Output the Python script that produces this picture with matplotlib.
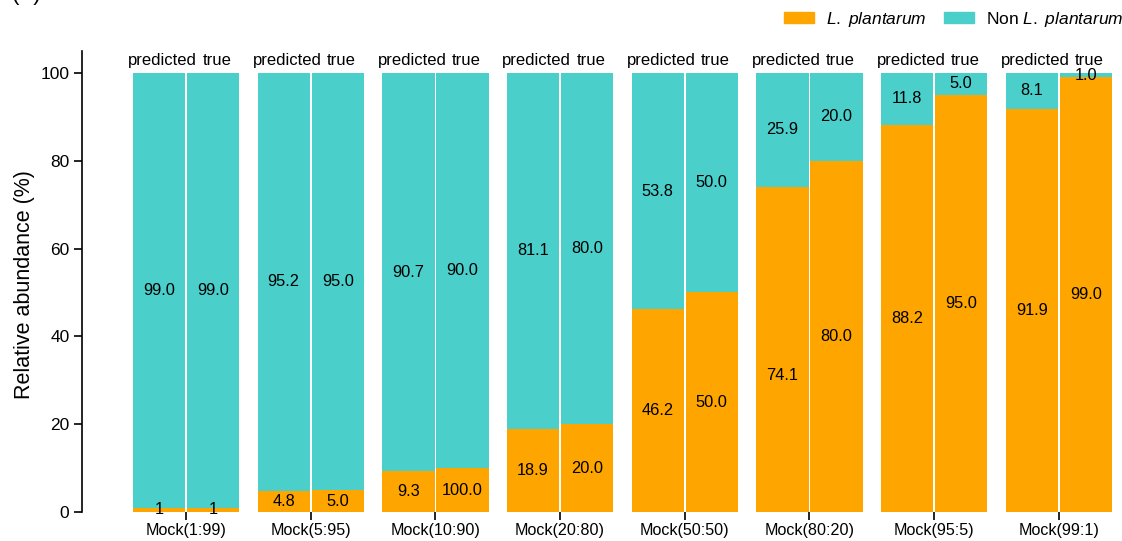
import numpy as np
import matplotlib.pyplot as plt
from matplotlib.patches import Patch

plt.rcParams['font.family'] = 'Liberation Sans'
plt.rcParams['mathtext.fontset'] = 'custom'
plt.rcParams['mathtext.rm'] = 'Liberation Sans'
plt.rcParams['mathtext.it'] = 'Liberation Sans:italic'

# Data
groups = ['Mock(1:99)', 'Mock(5:95)', 'Mock(10:90)', 'Mock(20:80)',
          'Mock(50:50)', 'Mock(80:20)', 'Mock(95:5)', 'Mock(99:1)']
pred_lp = [1.0, 4.8, 9.3, 18.9, 46.2, 74.1, 88.2, 91.9]
pred_non = [99.0, 95.2, 90.7, 81.1, 53.8, 25.9, 11.8, 8.1]
true_lp = [1.0, 5.0, 10.0, 20.0, 50.0, 80.0, 95.0, 99.0]
true_non = [99.0, 95.0, 90.0, 80.0, 50.0, 20.0, 5.0, 1.0]

# text labels as printed on the chart
pred_lp_lab = ['1', '4.8', '9.3', '18.9', '46.2', '74.1', '88.2', '91.9']
true_lp_lab = ['1', '5.0', '100.0', '20.0', '50.0', '80.0', '95.0', '99.0']
pred_non_lab = ['99.0', '95.2', '90.7', '81.1', '53.8', '25.9', '11.8', '8.1']
true_non_lab = ['99.0', '95.0', '90.0', '80.0', '50.0', '20.0', '5.0', '1.0']

orange = '#FFA500'
teal = '#4ACFCB'

fig = plt.figure(figsize=(11.22, 5.41), dpi=100)
ax = fig.add_axes([82 / 1122, 1 - 512 / 541, (1120 - 82) / 1122, (512 - 51) / 541])

x = np.arange(len(groups))
off = 0.2165
w = 0.42

for xs, lp, non, lp_lab, non_lab, name in [
        (x - off, pred_lp, pred_non, pred_lp_lab, pred_non_lab, 'predicted'),
        (x + off, true_lp, true_non, true_lp_lab, true_non_lab, 'true')]:
    lp = np.array(lp)
    non = np.array(non)
    ax.bar(xs, lp, width=w, color=orange, linewidth=0)
    ax.bar(xs, non, width=w, bottom=lp, color=teal, linewidth=0)
    for xi, a, b, la, lb in zip(xs, lp, non, lp_lab, non_lab):
        ya = a / 2
        if la == '74.1':
            ya = a / 2 - 6
        ax.text(xi, ya, la, ha='center', va='center', fontsize=11.8)
        ax.text(xi, a + b / 2, lb, ha='center', va='center', fontsize=11.8)
        ax.text(xi + 0.03, 102.8, name, ha='center', va='center', fontsize=12,
                clip_on=False)

ax.set_xlim(-0.834, 7.49)
ax.set_ylim(0, 105)
ax.set_yticks([0, 20, 40, 60, 80, 100])
ax.set_xticks(x)
ax.set_xticklabels(groups)
ax.tick_params(axis='y', labelsize=12.5, length=6, width=1.2, pad=3)
ax.tick_params(axis='x', labelsize=11.6, length=6, width=1.2, pad=2)
for s in ['top', 'right', 'bottom']:
    ax.spines[s].set_visible(False)
ax.spines['left'].set_linewidth(1.2)

fig.text(25 / 1122, 1 - 285 / 541, 'Relative abundance (%)', rotation=90,
         ha='center', va='center', fontsize=15.5)

fig.text(12 / 1122, 1.0, '(A)', ha='left', va='baseline', fontsize=16)

handles = [Patch(color=orange), Patch(color=teal)]
labels = [r'$\it{L.\ plantarum}$', r'Non $\it{L.\ plantarum}$']
fig.legend(handles, labels, loc='upper right', bbox_to_anchor=(1.015, 1.011),
           ncol=2, frameon=False, fontsize=12.5, handlelength=1.7,
           handleheight=0.55, columnspacing=1.0, handletextpad=0.7)

fig.savefig('out.png', dpi=100)
